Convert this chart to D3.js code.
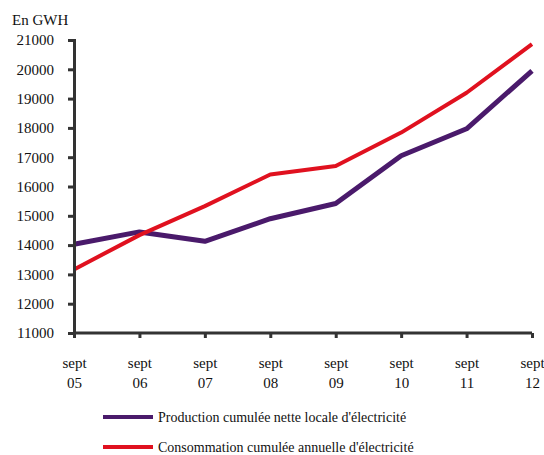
<!DOCTYPE html>
<html><head><meta charset="utf-8">
<script src="https://cdn.jsdelivr.net/npm/d3@7"></script>
<style>body{margin:0;background:#fff}svg{display:block}</style>
</head><body><svg id="c" width="544" height="455"></svg>
<script>
const categories = ["05","06","07","08","09","10","11","12"];
const production = [14030,14450,14130,14900,15420,17050,17970,19950];
const consommation = [13170,14340,15330,16410,16700,17840,19200,20860];
const yTicks = [11000,12000,13000,14000,15000,16000,17000,18000,19000,20000,21000];
const seriesNames = ["Production cumulée nette locale d'électricité","Consommation cumulée annuelle d'électricité"];
const colors = ["#4a1a6b","#e0111f"];
const FONT = "'Liberation Serif', serif";

const svg = d3.select("#c");
const x = d3.scalePoint().domain(categories).range([74,532]);
const y = d3.scaleLinear().domain([11000,21000]).range([333,40]);

// Lines
const line = d3.line().x((d,i)=>x(categories[i])).y(d=>y(d));
svg.append("path").datum(production).attr("d",line).attr("fill","none").attr("stroke",colors[0]).attr("stroke-width",5).attr("stroke-linejoin","round");
svg.append("path").datum(consommation).attr("d",line).attr("fill","none").attr("stroke",colors[1]).attr("stroke-width",4).attr("stroke-linejoin","round");

// Y axis
const gy = svg.append("g").attr("transform","translate(74,0)")
  .call(d3.axisLeft(y).tickValues(yTicks).tickFormat(d3.format("d")).tickSize(6).tickPadding(14));
gy.attr("font-family",FONT).attr("font-size",15);
gy.select(".domain").attr("stroke","#333").attr("stroke-width",3);
gy.selectAll(".tick line").attr("stroke","#333").attr("stroke-width",3);
gy.selectAll(".tick text").style("font-family",FONT).style("font-size","15px").attr("fill","#111");

// X axis
const gx = svg.append("g").attr("transform","translate(0,333)")
  .call(d3.axisBottom(x).tickSize(5).tickFormat(""));
gx.attr("font-family",FONT).attr("font-size",15);
gx.select(".domain").attr("stroke","#333").attr("stroke-width",3).attr("d","M74,0H532");
gx.selectAll(".tick line").attr("stroke","#333").attr("stroke-width",3);
gx.selectAll(".tick").each(function(d){
  const t = d3.select(this).append("text").attr("text-anchor","middle")
    .style("font-family",FONT).style("font-size","15px").attr("fill","#111");
  t.append("tspan").attr("x",0).attr("y",35).text("sept");
  t.append("tspan").attr("x",0).attr("y",55).text(d);
});

// Unit label
svg.append("text").attr("x",12).attr("y",25).style("font-family",FONT).style("font-size","15px").attr("fill","#111").text("En GWH");

// Legend
seriesNames.forEach((n,i)=>{
  const yy = 417 + i*30;
  svg.append("line").attr("x1",103).attr("x2",153).attr("y1",yy).attr("y2",yy).attr("stroke",colors[i]).attr("stroke-width",4);
  svg.append("text").attr("x",158).attr("y",yy+5).style("font-family",FONT).style("font-size","14px").attr("fill","#111").text(n);
});
</script></body></html>
